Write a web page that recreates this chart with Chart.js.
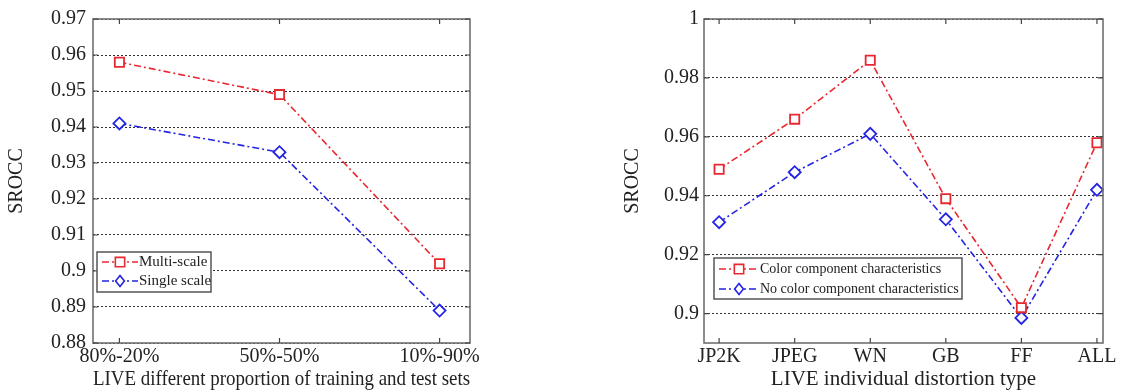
<!DOCTYPE html>
<html>
<head>
<meta charset="utf-8">
<script src="https://cdn.jsdelivr.net/npm/chart.js@4.4.1/dist/chart.umd.min.js"></script>
<style>
    html, body { margin: 0; padding: 0; background: #fff; }
    #wrap { position: relative; width: 1127px; height: 392px; overflow: hidden; }
    #leftChart { position: absolute; left: 0; top: 0; }
    #rightChart { position: absolute; left: 563px; top: 0; }
</style>
</head>
<body>
<div id="wrap">
    <canvas id="leftChart" width="563" height="392"></canvas>
    <canvas id="rightChart" width="564" height="392"></canvas>
</div>
<script>
// left panel: training / test proportions
const leftCategories = ['80%-20%', '50%-50%', '10%-90%'];
const leftMulti = [0.958, 0.949, 0.902];
const leftSingle = [0.941, 0.933, 0.889];
const leftYTicks = [0.88, 0.89, 0.9, 0.91, 0.92, 0.93, 0.94, 0.95, 0.96, 0.97];

// right panel: distortion types
const rightCategories = ['JP2K', 'JPEG', 'WN', 'GB', 'FF', 'ALL'];
const rightColor = [0.949, 0.966, 0.986, 0.939, 0.902, 0.958];
const rightNoColor = [0.931, 0.948, 0.961, 0.932, 0.8985, 0.942];
const rightYTicks = [0.9, 0.92, 0.94, 0.96, 0.98, 1];

const FONT = "'Liberation Serif', 'Times New Roman', serif";
const RED = 'rgb(232, 40, 48)';
const BLUE = 'rgb(36, 36, 226)';
const DASHDOT = [7, 3, 2, 3];

// box round the plot area + inward tick marks
const framePlugin = {
    id: 'frame',
    afterDraw(chart) {
        const { ctx, chartArea: a, scales } = chart;
        ctx.save();
        ctx.strokeStyle = '#707070';
        ctx.lineWidth = 1.6;
        ctx.setLineDash([]);
        ctx.strokeRect(a.left, a.top, a.right - a.left, a.bottom - a.top);
        ctx.lineWidth = 1.2;
        ctx.strokeStyle = '#444';
        ctx.beginPath();
        scales.x.ticks.forEach(t => {
            const px = scales.x.getPixelForValue(t.value);
            ctx.moveTo(px, a.top); ctx.lineTo(px, a.top + 5);
            ctx.moveTo(px, a.bottom); ctx.lineTo(px, a.bottom - 5);
        });
        scales.y.ticks.forEach(t => {
            const py = scales.y.getPixelForValue(t.value);
            ctx.moveTo(a.left, py); ctx.lineTo(a.left + 5, py);
            ctx.moveTo(a.right, py); ctx.lineTo(a.right - 5, py);
        });
        ctx.stroke();
        ctx.restore();
    }
};

function drawMarker(ctx, style, x, y, r, color) {
    ctx.save();
    ctx.setLineDash([]);
    ctx.strokeStyle = color;
    ctx.fillStyle = '#fff';
    ctx.lineWidth = 1.6;
    ctx.beginPath();
    if (style === 'rect') {
        ctx.rect(x - r * 0.85, y - r * 0.85, r * 1.7, r * 1.7);
    } else {
        ctx.moveTo(x, y - r); ctx.lineTo(x + r * 0.8, y); ctx.lineTo(x, y + r); ctx.lineTo(x - r * 0.8, y); ctx.closePath();
    }
    ctx.fill();
    ctx.stroke();
    ctx.restore();
}

// legend box drawn inside the plot area
const boxLegendPlugin = {
    id: 'boxLegend',
    afterDraw(chart, args, opts) {
        const { ctx, chartArea: a } = chart;
        const x = a.left + opts.dx, y = opts.top;
        ctx.save();
        ctx.fillStyle = '#fff';
        ctx.fillRect(x, y, opts.w, opts.h);
        ctx.strokeStyle = '#555';
        ctx.lineWidth = 1.5;
        ctx.strokeRect(x, y, opts.w, opts.h);
        ctx.font = opts.fontSize + 'px ' + FONT;
        ctx.textBaseline = 'middle';
        chart.data.datasets.forEach((ds, i) => {
            const cy = y + opts.rowTop + i * opts.rowGap;
            ctx.strokeStyle = ds.borderColor;
            ctx.lineWidth = 1.5;
            ctx.setLineDash(DASHDOT);
            ctx.beginPath();
            ctx.moveTo(x + 5, cy);
            ctx.lineTo(x + 5 + opts.lineLen, cy);
            ctx.stroke();
            drawMarker(ctx, ds.pointStyle, x + 5 + opts.lineLen / 2, cy, 5.5, ds.borderColor);
            ctx.fillStyle = '#222';
            ctx.fillText(ds.label, x + 6 + opts.lineLen, cy);
        });
        ctx.restore();
    }
};

function makeDataset(label, values, color, style) {
    return {
        label: label,
        data: values.map((v, i) => ({ x: i, y: v })),
        borderColor: color,
        backgroundColor: '#fff',
        borderWidth: 1.6,
        borderDash: DASHDOT,
        pointStyle: style,
        pointRadius: style === 'rect' ? 6.5 : 6,
        pointBorderWidth: 1.8,
        pointBackgroundColor: '#fff',
        pointBorderColor: color,
        tension: 0,
        clip: false
    };
}

function renderPanel(canvasId, cats, yTicks, datasets, layout, legend) {
    const ctx = document.getElementById(canvasId).getContext('2d');
    new Chart(ctx, {
        type: 'line',
        data: { datasets: datasets },
        plugins: [framePlugin, boxLegendPlugin],
        options: {
            responsive: false,
            animation: false,
            layout: { padding: layout.padding },
            plugins: {
                legend: { display: false },
                tooltip: { enabled: false },
                boxLegend: legend
            },
            scales: {
                x: {
                    type: 'linear',
                    min: layout.xMin,
                    max: layout.xMax,
                    afterBuildTicks: s => { s.ticks = cats.map((c, i) => ({ value: i })); },
                    afterFit: s => { s.height = 49; },
                    grid: { display: false, drawTicks: false },
                    border: { display: false },
                    ticks: {
                        callback: v => cats[v],
                        color: '#222',
                        padding: 2,
                        maxRotation: 0,
                        autoSkip: false,
                        font: { family: FONT, size: 20 }
                    },
                    title: {
                        display: true,
                        text: layout.xTitle,
                        color: '#222',
                        padding: { top: 0, bottom: 0 },
                        font: { family: FONT, size: 21 }
                    }
                },
                y: {
                    min: layout.yMin,
                    max: yTicks[yTicks.length - 1],
                    afterBuildTicks: s => { s.ticks = yTicks.map(v => ({ value: v })); },
                    afterFit: s => { s.width = layout.yWidth; },
                    grid: {
                        color: '#333',
                        lineWidth: 1,
                        drawTicks: false
                    },
                    border: { display: false, dash: [2, 2] },
                    ticks: {
                        callback: v => String(v),
                        color: '#222',
                        padding: layout.tickPad,
                        font: { family: FONT, size: 20 }
                    },
                    title: {
                        display: true,
                        text: 'SROCC',
                        color: '#222',
                        padding: { top: 5, bottom: 0 },
                        font: { family: FONT, size: 20 }
                    }
                }
            }
        }
    });
}

renderPanel('leftChart', leftCategories, leftYTicks, [
    makeDataset('Multi-scale', leftMulti, RED, 'rect'),
    makeDataset('Single scale', leftSingle, BLUE, 'rectRot')
], {
    padding: { left: 0, right: 93, top: 18, bottom: 0 },
    xMin: -0.165, xMax: 2.19, yMin: 0.88, yWidth: 93, tickPad: 7,
    xTitle: 'LIVE different proportion of training and test sets'
}, { dx: 4, top: 252, w: 114, h: 40, rowTop: 10, rowGap: 19, lineLen: 36, fontSize: 15 });

renderPanel('rightChart', rightCategories, rightYTicks, [
    makeDataset('Color component characteristics', rightColor, RED, 'rect'),
    makeDataset('No color component characteristics', rightNoColor, BLUE, 'rectRot')
], {
    padding: { left: 53, right: 24, top: 19, bottom: 0 },
    xMin: -0.2, xMax: 5.08, yMin: 0.89, yWidth: 88, tickPad: 5,
    xTitle: 'LIVE individual distortion type'
}, { dx: 10, top: 258, w: 248, h: 41, rowTop: 11, rowGap: 20, lineLen: 40, fontSize: 14 });
</script>
</body>
</html>
